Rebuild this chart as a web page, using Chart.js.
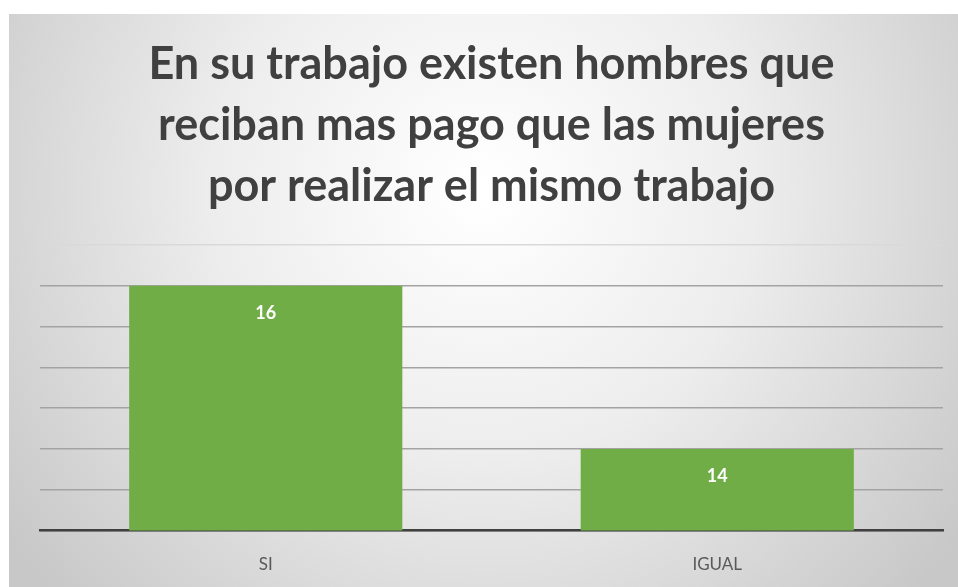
<!DOCTYPE html>
<html>
<head>
<meta charset="utf-8">
<script src="https://cdn.jsdelivr.net/npm/chart.js@4"></script>
<style>
  html, body { margin: 0; padding: 0; background: #ffffff; overflow: hidden; }
  #wrap { position: absolute; left: 9px; top: 14px; width: 949px; height: 585px; }
</style>
</head>
<body>
<div id="wrap"><canvas id="chart"></canvas></div>
<script>
const categories = ['SI', 'IGUAL']
const values = [16, 14]
const titleLines = ['En su trabajo existen hombres que', 'reciban mas pago que las mujeres', 'por realizar el mismo trabajo']
const yMin = 13
const yMax = 16.5
const yStep = 0.5

// gradient background behind everything
const backgroundPlugin = {
    id: 'bg',
    beforeDraw: chart => {
        const ctx = chart.ctx
        const w = chart.width, h = chart.height
        const g = ctx.createRadialGradient(w / 2, h * 0.3, 10, w / 2, h * 0.3, w * 0.62)
        g.addColorStop(0, '#ffffff')
        g.addColorStop(0.45, '#ededed')
        g.addColorStop(1, '#c8c8c8')
        ctx.save()
        ctx.fillStyle = g
        ctx.fillRect(0, 0, w, h)
        ctx.restore()
    }
}

// value labels inside top of each bar
const valueLabels = {
    id: 'valueLabels',
    afterDatasetsDraw: chart => {
        const ctx = chart.ctx
        ctx.save()
        ctx.fillStyle = '#ffffff'
        ctx.font = 'bold 18px Lato, "Open Sans", sans-serif'
        ctx.textAlign = 'center'
        ctx.textBaseline = 'middle'
        chart.getDatasetMeta(0).data.forEach((bar, i) => {
            ctx.fillText(values[i], bar.x, bar.y + 27)
        })
        ctx.restore()
    }
}

new Chart(document.getElementById('chart'), {
    type: 'bar',
    data: {
        labels: categories,
        datasets: [{
            data: values,
            backgroundColor: '#70ad47',
            barPercentage: 0.605,
            categoryPercentage: 1
        }]
    },
    options: {
        responsive: true,
        maintainAspectRatio: false,
        animation: false,
        layout: { padding: { left: 31, right: 15, top: 0, bottom: 0 } },
        plugins: {
            legend: { display: false },
            tooltip: { enabled: false },
            title: {
                display: true,
                text: titleLines,
                color: '#404040',
                font: { family: 'Lato, "Open Sans", sans-serif', size: 45, weight: 'bold', lineHeight: 1.355 },
                padding: { top: 20, bottom: 28 }
            }
        },
        scales: {
            x: {
                grid: { display: false, drawTicks: false },
                border: { color: '#404040', width: 2.5 },
                ticks: { color: '#595959', font: { family: 'Lato, "Open Sans", sans-serif', size: 17 }, padding: 24 }
            },
            y: {
                min: yMin,
                max: yMax,
                ticks: { display: false, stepSize: yStep },
                border: { display: false },
                grid: {
                    drawTicks: false,
                    lineWidth: 1.5,
                    color: ctx => ctx.tick && ctx.tick.value === yMax ? '#d9d9d9' : '#a3a3a3'
                }
            }
        }
    },
    plugins: [backgroundPlugin, valueLabels]
})
</script>
</body>
</html>
